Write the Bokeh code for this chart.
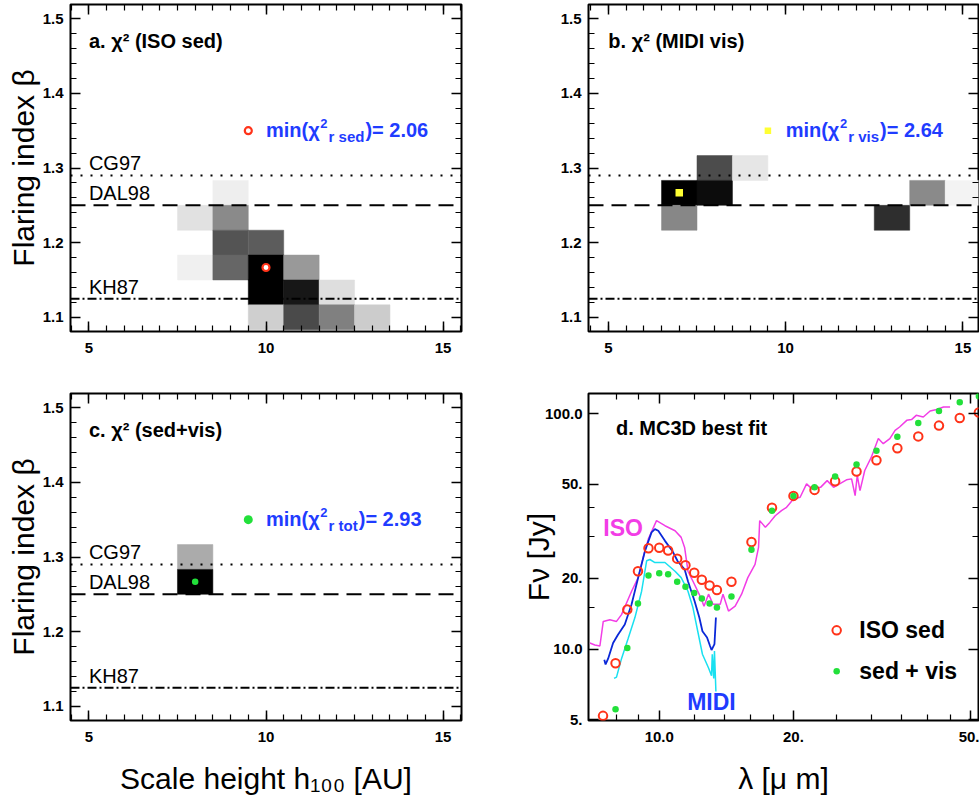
import numpy as np
from bokeh.plotting import figure
from bokeh.models import (Span, Label, LinearAxis, LogAxis, FixedTicker,
                          ColumnDataSource, LinearColorMapper, Range1d)
from bokeh.layouts import column, row
from bokeh.palettes import gray
from bokeh.embed import file_html
from bokeh.resources import INLINE

# ---------------- data ----------------
# chi2 maps: scale height h100 [AU], flaring index beta, relative chi2 level (0 = minimum)
h_sed = [9, 8, 9, 9, 10, 8, 9, 10, 11, 10, 11, 12, 10, 11, 12, 13]
beta_sed = [1.2667, 1.2333, 1.2333, 1.2, 1.2, 1.1667, 1.1667, 1.1667, 1.1667,
            1.1333, 1.1333, 1.1333, 1.1, 1.1, 1.1, 1.1]
level_sed = [0.93, 0.88, 0.54, 0.33, 0.36, 0.94, 0.40, 0.0, 0.60,
             0.0, 0.09, 0.87, 0.81, 0.29, 0.50, 0.80]

h_vis = [7, 7, 8, 8, 9, 13, 14, 15]
beta_vis = [1.2667, 1.2333, 1.3, 1.2667, 1.3, 1.2333, 1.2667, 1.2667]
level_vis = [0.0, 0.53, 0.30, 0.05, 0.90, 0.18, 0.54, 0.95]

h_tot = [8, 8]
beta_tot = [1.3, 1.2667]
level_tot = [0.67, 0.0]

best_sed = (10, 1.1667)
best_vis = (7, 1.2667)
best_tot = (8, 1.2667)
min_chi2 = {"sed": "2.06", "vis": "2.64", "tot": "2.93"}

lit_names = ["CG97", "DAL98", "KH87"]
lit_beta = [1.29, 1.25, 1.125]

# SED panel
lam_iso_sed = [7.48, 7.98, 8.48, 8.96, 9.46, 10.0, 10.47, 10.97, 11.45, 11.98, 12.46,
               12.97, 13.47, 14.52, 16.1, 17.9, 20.0, 22.3, 24.8, 27.7, 30.7, 34.2,
               38.1, 42.4, 47.2, 52.1]
f_iso_sed = [5.2, 8.7, 14.7, 21.4, 26.8, 26.9, 26.2, 24.2, 22.7, 21.1, 19.7,
             18.6, 17.8, 19.3, 28.5, 39.8, 44.7, 47.4, 51.6, 56.8, 63.4, 71.3,
             80.0, 88.9, 95.8, 101.0]
lam_sedvis = [7.98, 8.48, 8.96, 9.46, 10.0, 10.47, 10.97, 11.45, 11.98, 12.46,
              12.97, 13.47, 14.52, 16.1, 17.9, 20.0, 22.3, 24.8, 27.7, 30.7, 34.2,
              38.1, 42.4, 47.2, 52.1]
f_sedvis = [5.55, 10.1, 15.6, 20.5, 21.0, 20.8, 19.3, 18.4, 17.3, 16.4,
            15.6, 15.0, 16.7, 26.4, 38.7, 44.7, 48.6, 54.0, 60.8, 69.5, 79.8,
            91.2, 102.6, 111.7, 118.5]

iso_lam = [6.99, 7.17, 7.36, 7.49, 7.75, 8.02, 8.23, 8.67, 8.97, 9.2, 9.45, 9.86,
           10.3, 10.85, 11.2, 11.4, 11.6, 12.0, 12.4, 12.6, 12.9, 13.2, 13.7, 13.9,
           14.3, 14.8, 15.3, 15.8, 16.4, 16.7, 16.8, 17.3, 17.7, 18.2, 18.8, 19.3,
           20.0, 20.7, 21.4, 22.0, 23.0, 23.8, 24.6, 26.3, 27.0, 27.5, 27.8, 28.2,
           28.9, 29.9, 31.0, 31.8, 32.9, 33.8, 34.6, 35.9, 36.8, 37.7, 39.1, 40.5,
           41.9, 43.4, 44.9]
iso_f = [10.6, 10.4, 10.3, 13.1, 13.3, 13.1, 14.0, 17.6, 20.1, 24.4, 29.3, 35.1,
         33.4, 31.8, 29.8, 27.0, 21.4, 18.8, 16.5, 15.2, 17.1, 15.5, 15.5, 17.1,
         14.5, 15.2, 17.1, 20.1, 22.9, 27.0, 35.1, 32.9, 34.5, 36.8, 38.7, 40.0,
         43.4, 44.1, 50.3, 47.9, 48.6, 51.9, 48.6, 52.3, 52.8, 44.8, 54.6, 47.1,
         57.3, 65.3, 78.3, 74.5, 78.3, 84.9, 87.7, 93.6, 94.3, 98.3, 96.7, 102.5,
         104.0, 106.7, 106.7]

midi_lam = [7.53, 7.58, 7.68, 7.88, 8.08, 8.37, 8.67, 8.97, 9.29, 9.61, 9.78, 9.95,
            10.3, 10.7, 11.0, 11.4, 11.6, 12.0, 12.3, 12.5, 12.8, 13.0, 13.1, 13.3, 13.4]
midi_f = [9.0, 8.6, 9.1, 10.6, 11.5, 12.7, 15.5, 20.1, 26.1, 31.3, 32.3, 31.8,
          28.8, 26.1, 23.6, 21.8, 19.4, 16.0, 13.6, 11.9, 11.2, 10.3, 9.9, 10.5, 13.6]

midi2_lam = [7.92, 8.02, 8.23, 8.52, 8.82, 9.13, 9.37, 9.53, 9.78, 10.3, 10.85, 11.2,
             11.6, 11.9, 12.2, 12.5, 12.9, 13.1, 13.15, 13.25, 13.3, 13.4]
midi2_f = [7.5, 7.6, 9.1, 11.1, 13.6, 17.6, 23.7, 24.0, 23.3, 23.3, 21.4, 20.1,
           17.6, 15.0, 11.9, 9.5, 8.3, 7.7, 9.5, 7.5, 9.8, 6.6]

# ---------------- style ----------------
FONT = "Liberation Sans"
BLUE_TXT = "#1f3cff"
RED = "#ff3319"
GREEN = "#22e03a"
YELLOW = "#ffff33"
MAGENTA = "#f23de6"
BLUE_LINE = "#0a28d8"
CYAN = "#19e0f0"
LIT_DASH = ["2 8", "15 8", "9 3 2 3"]

BOLD_W = {"m": .889, "i": .278, "n": .611, "(": .333, ")": .333, "χ": .556, " ": .278,
          "r": .389, "s": .556, "e": .556, "d": .611, "v": .556, "t": .333, "o": .611,
          "=": .584, ".": .278, "2": .556}


def text_w(s, size):
    return sum(BOLD_W.get(c, .556) for c in s) * size


def style_axis(ax, labels=True):
    ax.axis_line_color = None
    ax.major_tick_in = 10
    ax.major_tick_out = 0
    ax.minor_tick_in = 6
    ax.minor_tick_out = 0
    ax.major_tick_line_color = "black"
    ax.minor_tick_line_color = "black"
    ax.major_tick_line_width = 1.5
    ax.minor_tick_line_width = 1.2
    ax.major_label_text_font = FONT
    ax.major_label_text_font_style = "bold"
    if labels:
        ax.major_label_text_color = "black"
        ax.major_label_text_font_size = "15px"
    else:
        # mirror axis: ticks only, labels not drawn
        ax.major_label_text_color = None
        ax.major_label_text_font_size = "1px"
        ax.major_label_standoff = 0
        ax.axis_label_standoff = 0
    ax.axis_label_text_font = FONT
    ax.axis_label_text_font_style = "normal"
    ax.axis_label_text_font_size = "30px"
    ax.axis_label_text_color = "black"


def base_fig(w, h, xr, yr, borders, xtype="linear", ytype="linear"):
    p = figure(width=w, height=h, x_range=Range1d(*xr), y_range=Range1d(*yr),
               x_axis_type=xtype, y_axis_type=ytype,
               output_backend="svg", toolbar_location=None,
               min_border_left=borders[0], min_border_right=borders[1],
               min_border_top=borders[2], min_border_bottom=borders[3])
    p.grid.visible = False
    p.outline_line_color = "black"
    p.outline_line_width = 2
    p.background_fill_color = "white"
    p.border_fill_color = "white"
    return p


mapper = LinearColorMapper(palette=gray(256), low=0.0, high=1.0)


def heat_panel(w, h, xr, borders, hs, bs, lv, best, key, title, marker, mcolor,
               msize, leg_size, show_lit, ylabel=None, xlabel=None, ring=False):
    p = base_fig(w, h, xr, (1.081, 1.519), borders)
    xt = FixedTicker(ticks=[5, 10, 15], minor_ticks=list(np.arange(4.5, 16.0, 0.5)))
    yt = FixedTicker(ticks=[1.1, 1.2, 1.3, 1.4, 1.5],
                     minor_ticks=list(np.round(np.arange(1.08, 1.53, 0.02), 2)))
    p.xaxis.ticker = xt
    p.yaxis.ticker = yt
    style_axis(p.xaxis[0])
    style_axis(p.yaxis[0])
    p.xaxis.major_label_standoff = 11
    p.yaxis.major_label_standoff = 7
    if ylabel:
        p.yaxis.axis_label = ylabel
        p.yaxis.axis_label_standoff = 0
    if xlabel:
        p.xaxis.axis_label = xlabel
        p.xaxis.axis_label_standoff = 17
    ra = LinearAxis(ticker=yt)
    style_axis(ra, labels=False)
    p.add_layout(ra, "right")
    ta = LinearAxis(ticker=xt)
    style_axis(ta, labels=False)
    p.add_layout(ta, "above")

    src = ColumnDataSource(dict(h=hs, beta=bs, level=lv))
    p.rect(x="h", y="beta", width=1, height=1 / 30, source=src,
           fill_color={"field": "level", "transform": mapper},
           line_color={"field": "level", "transform": mapper}, line_width=0.5)

    for name, b, dash in zip(lit_names, lit_beta, LIT_DASH):
        p.add_layout(Span(location=b, dimension="width", line_color="black",
                          line_width=2, line_dash=dash))
        if show_lit:
            p.add_layout(Label(x=5.0, y=b, text=name, text_font=FONT,
                               text_font_size="20px", text_color="black",
                               text_baseline="middle", y_offset=12))

    if ring:
        kw = dict(fill_color="white", line_color=mcolor, line_width=2.2)
    else:
        kw = dict(fill_color=mcolor, line_color=None)
    p.scatter(x=[best[0]], y=[best[1]], marker=marker, size=msize, **kw)
    p.scatter(x=[9.5], y=[1.35], marker=marker, size=leg_size, **kw)

    # min(chi2_r key)= value
    x0, y0 = 10.0, 1.35
    main = "min(χ"
    sub = "r " + key
    w1 = text_w(main, 20)
    w2 = text_w("2", 13)
    w3 = text_w(sub, 15)
    pieces = [(main, 20, 0, 1), ("2", 13, w1 + 1, 7),
              (sub, 15, w1 + w2 + 2, -6), (")= " + min_chi2[key], 20, w1 + w2 + w3 + 3, 1)]
    for txt, fs, dx, dy in pieces:
        p.add_layout(Label(x=x0, y=y0, text=txt, text_font=FONT,
                           text_font_size=f"{fs}px", text_font_style="bold",
                           text_color=BLUE_TXT, text_baseline="middle",
                           x_offset=dx, y_offset=dy))
    p.add_layout(Label(x=5.0, y=1.468, text=title, text_font=FONT,
                       text_font_size="20px", text_font_style="bold",
                       text_color="black", text_baseline="middle", y_offset=2))
    return p


pa = heat_panel(480, 370, (4.48, 15.52), (70, 19, 4, 39), h_sed, beta_sed, level_sed,
                best_sed, "sed", "a. χ² (ISO sed)", "circle", RED, 7, 7, True,
                ylabel="Flaring index β", ring=True)
pb = heat_panel(499, 370, (4.44, 15.44), (108, 1, 4, 39), h_vis, beta_vis, level_vis,
                best_vis, "vis", "b. χ² (MIDI vis)", "square", YELLOW, 7.5, 6.5, False)
pc = heat_panel(480, 429, (4.48, 15.52), (70, 19, 23, 79), h_tot, beta_tot, level_tot,
                best_tot, "tot", "c. χ² (sed+vis)", "circle", GREEN, 6.5, 9, True,
                ylabel="Flaring index β", xlabel="Scale height h₁₀₀ [AU]")

# ---------------- panel d ----------------
pd_ = base_fig(499, 429, (6.94, 52.0), (4.97, 121.7), (108, 1, 23, 79),
               xtype="log", ytype="log")
xt = FixedTicker(ticks=[10, 20, 50], minor_ticks=[8, 9, 12, 14, 16, 18, 25, 30, 35, 40, 45])
yt = FixedTicker(ticks=[5, 10, 20, 50, 100], minor_ticks=[15, 30, 40])
pd_.xaxis.ticker = xt
pd_.yaxis.ticker = yt
style_axis(pd_.xaxis[0])
style_axis(pd_.yaxis[0])
pd_.xaxis.major_label_overrides = {10: "10.0", 20: "20.", 50: "50."}
pd_.yaxis.major_label_overrides = {5: "5.", 10: "10.0", 20: "20.", 50: "50.", 100: "100.0"}
pd_.xaxis.major_label_standoff = 11
pd_.yaxis.major_label_standoff = 6
pd_.xaxis.axis_label = "λ [μ m]"
pd_.xaxis.axis_label_standoff = 17
pd_.yaxis.axis_label = "Fν [Jy]"
pd_.yaxis.axis_label_standoff = -13
ra = LogAxis(ticker=yt)
style_axis(ra, labels=False)
pd_.add_layout(ra, "right")
ta = LogAxis(ticker=xt)
style_axis(ta, labels=False)
pd_.add_layout(ta, "above")

pd_.line(iso_lam, iso_f, line_color=MAGENTA, line_width=1.5)
pd_.line(midi_lam, midi_f, line_color=BLUE_LINE, line_width=1.8)
pd_.line(midi2_lam, midi2_f, line_color=CYAN, line_width=1.5)
pd_.scatter(lam_iso_sed, f_iso_sed, marker="circle", size=8.5, fill_alpha=0,
            line_color=RED, line_width=2)
pd_.scatter(lam_sedvis, f_sedvis, marker="circle", size=6.5, fill_color=GREEN,
            line_color=None)
# legend
pd_.scatter([25.0], [12.0], marker="circle", size=8.5, fill_alpha=0, line_color=RED, line_width=2)
pd_.scatter([25.0], [8.04], marker="circle", size=6.5, fill_color=GREEN, line_color=None)
for txt, y in [("ISO sed", 12.0), ("sed + vis", 8.04)]:
    pd_.add_layout(Label(x=28.1, y=y, text=txt, text_font=FONT, text_font_size="23px",
                         text_font_style="bold", text_color="black", text_baseline="middle"))
pd_.add_layout(Label(x=8.0, y=85, text="d. MC3D best fit", text_font=FONT,
                     text_font_size="20px", text_font_style="bold", text_color="black",
                     text_baseline="middle", y_offset=2))
pd_.add_layout(Label(x=7.49, y=32.7, text="ISO", text_font=FONT, text_font_size="23px",
                     text_font_style="bold", text_color=MAGENTA, text_baseline="middle"))
pd_.add_layout(Label(x=11.55, y=5.95, text="MIDI", text_font=FONT, text_font_size="23px",
                     text_font_style="bold", text_color=BLUE_TXT, text_baseline="middle"))

layout = column(row(pa, pb, spacing=0), row(pc, pd_, spacing=0), spacing=0)
open("out.html", "w").write(file_html(layout, INLINE))
